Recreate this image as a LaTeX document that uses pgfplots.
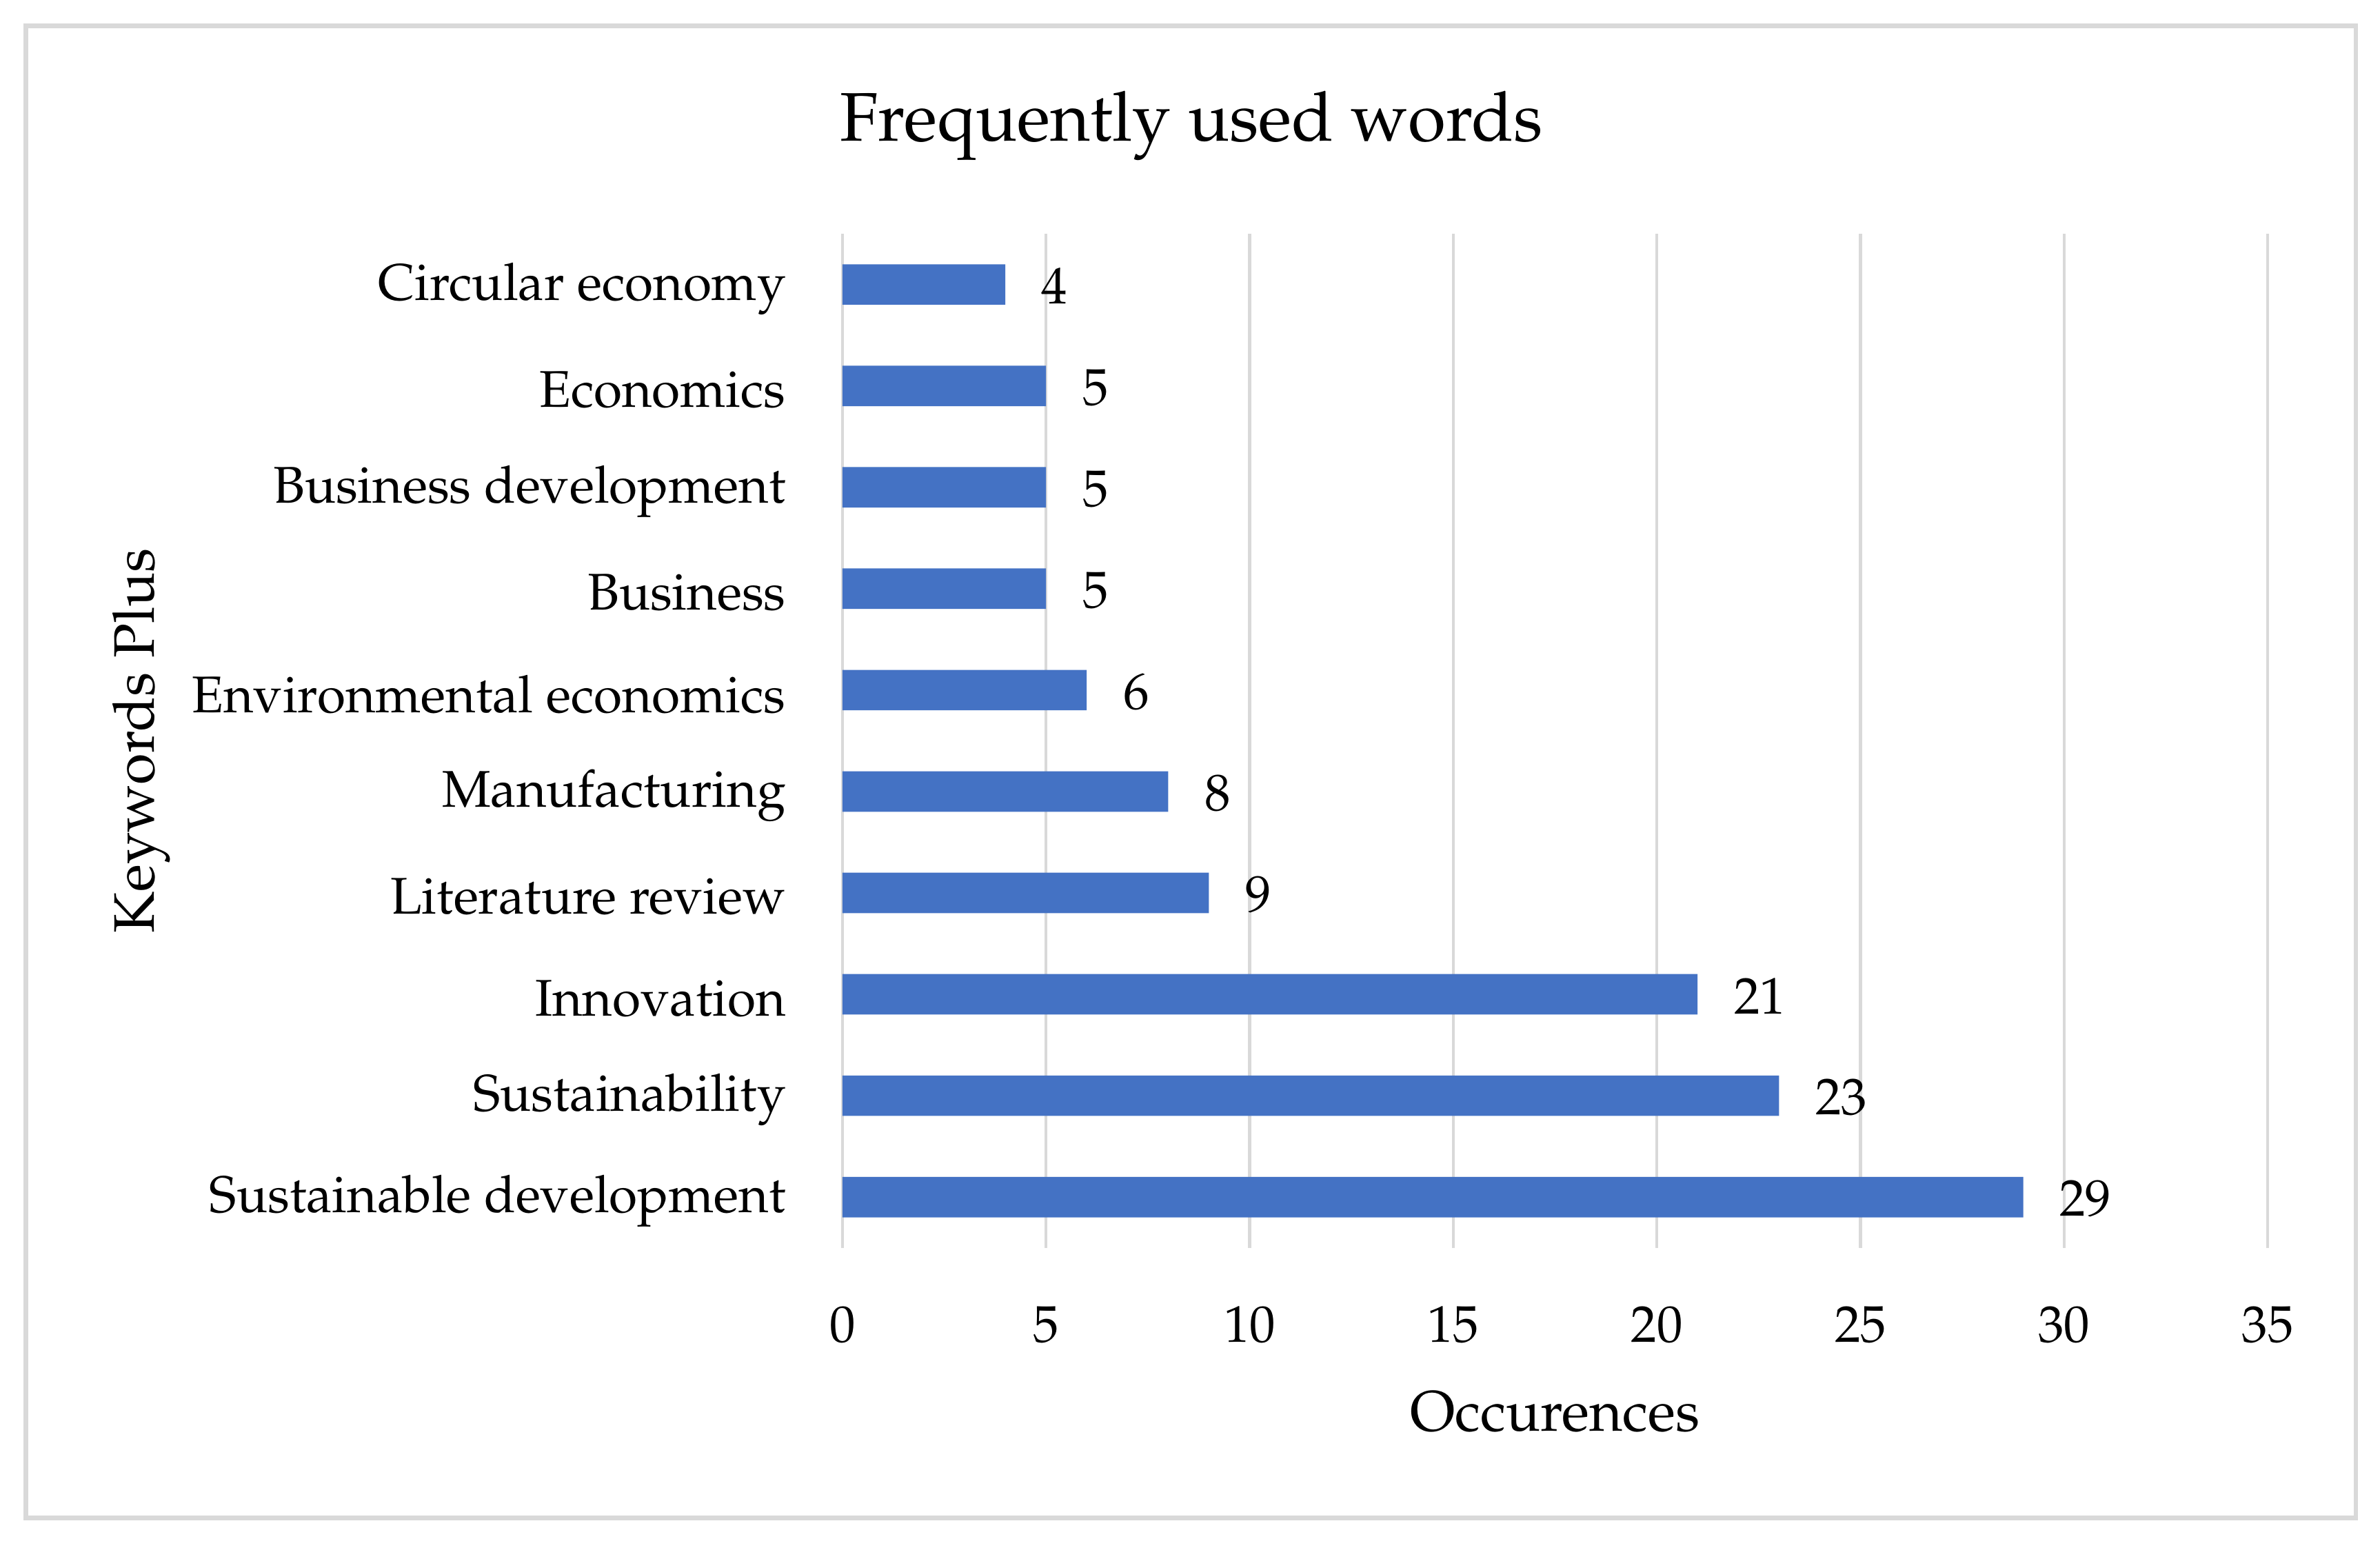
\documentclass[border=0pt]{standalone}
\usepackage[T1]{fontenc}
\usepackage{mathpazo}
\usepackage{pgfplots}
\pgfplotsset{compat=1.18}
\definecolor{barblue}{HTML}{4472C4}
\definecolor{gridgray}{HTML}{D9D9D9}

\pgfplotstableread{
idx val
0 29
1 23
2 21
3 9
4 8
5 6
6 5
7 5
8 5
9 4
}\wordcounts

\begin{document}
\begin{tikzpicture}
  % page size and outer frame
  \path[use as bounding box, fill=white] (-166.5pt,-60.3pt) rectangle (303.9pt,246pt);
  \draw[gridgray, line width=0.9pt] (-161.4pt,-54pt) rectangle (299.1pt,240.9pt);
  \node[font=\fontsize{13.6}{16}\selectfont] at (69pt,221.1pt) {Frequently used words};

  \begin{axis}[
    at={(0,-0.6pt)}, anchor=south west,
    scale only axis, width=281.7pt, height=200.4pt,
    xbar, bar width=8pt,
    xmin=0, xmax=35, ymin=-0.5, ymax=9.5,
    xtick={0,5,...,35},
    ytick={0,...,9},
    yticklabels={Sustainable development, Sustainability, Innovation, Literature review,
      Manufacturing, Environmental economics, Business, Business development,
      Economics, Circular economy},
    xmajorgrids, grid style={gridgray, line width=0.6pt},
    axis line style={draw=none}, tick style={draw=none},
    major tick length=0pt,
    tick label style={font=\fontsize{10.2}{12}\selectfont},
    xticklabel style={anchor=north, inner sep=0pt, yshift=-11.4pt},
    yticklabel style={anchor=east, inner sep=0pt, xshift=-11pt, yshift=-0.8pt},
    xlabel={Occurences},
    xlabel style={at={(axis description cs:0.5,0)}, anchor=center, yshift=-32.4pt, font=\fontsize{11.3}{13}\selectfont},
    ylabel={Keywords Plus},
    ylabel style={at={(axis description cs:0,0.5)}, anchor=center, yshift=138.6pt, font=\fontsize{11.3}{13}\selectfont},
    nodes near coords,
    nodes near coords style={anchor=west, inner sep=0pt, xshift=7pt, yshift=-0.3pt, font=\fontsize{10.2}{12}\selectfont, text=black},
    /pgf/number format/assume math mode=true,
  ]
    \addplot[draw=none, fill=barblue] table[x=val, y=idx] {\wordcounts};
  \end{axis}
\end{tikzpicture}
\end{document}
